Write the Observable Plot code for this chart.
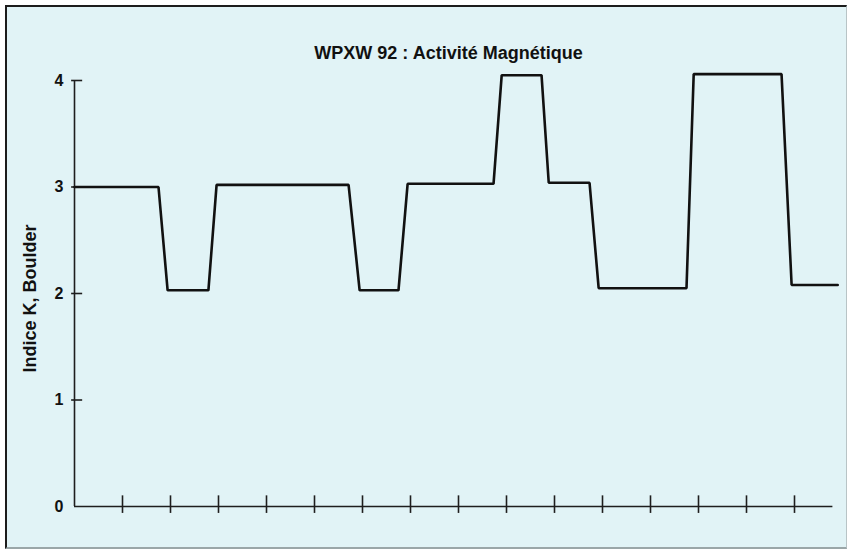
<!DOCTYPE html>
<html>
<head>
<meta charset="utf-8">
<script src="https://cdn.jsdelivr.net/npm/d3@7"></script>
<script src="https://cdn.jsdelivr.net/npm/@observablehq/plot@0.6"></script>
<style>
  html, body { margin: 0; padding: 0; background: #ffffff; }
  #wrap { position: relative; width: 849px; height: 550px; overflow: hidden; }
  #panel { position: absolute; left: 5px; top: 5px; width: 839px; height: 540px;
           background: #e1f3f6; border-left: 2px solid #1c1c1c; border-top: 2px solid #1c1c1c;
           border-right: 1px solid #b8c4c6; border-bottom: 2px solid #9aa6a8; }
  #chart { position: absolute; left: 0; top: 0; }
  #chart svg { background: transparent; }
</style>
</head>
<body>
<div id="wrap"><div id="panel"></div><div id="chart"></div></div>
<script>
const title = "WPXW 92 : Activité Magnétique";
const yLabel = "Indice K, Boulder";
const xTicks = [1, 2, 3, 4, 5, 6, 7, 8, 9, 10, 11, 12, 13, 14, 15];
const yTicks = [0, 1, 2, 3, 4];
const xAxisEnd = 15.8;
const hours = [0, 1.75, 1.94, 2.79, 2.96, 5.71, 5.94, 6.75, 6.94, 8.73, 8.90, 9.73, 9.88, 10.73, 10.92, 12.75, 12.90, 14.73, 14.94, 15.90];
const kIndex = [3.00, 3.00, 2.03, 2.03, 3.02, 3.02, 2.03, 2.03, 3.03, 3.03, 4.05, 4.05, 3.04, 3.04, 2.05, 2.05, 4.06, 4.06, 2.08, 2.08];

const series = hours.map((h, i) => ({h, k: kIndex[i]}));
const font = "'Liberation Sans Narrow', 'Arial Narrow', 'Liberation Sans', sans-serif";

const chart = Plot.plot({
  width: 849,
  height: 550,
  marginLeft: 74,
  marginRight: 7,
  marginTop: 80,
  marginBottom: 44,
  style: {background: "transparent", fontFamily: font, color: "#111"},
  x: {domain: [0, 16], axis: null},
  y: {domain: [0, 4]},
  marks: [
    // axes lines
    Plot.ruleY([0], {x1: 0, x2: xAxisEnd, stroke: "#1e1e1e", strokeWidth: 1.6}),
    Plot.ruleX([0], {y1: 0, y2: 4, stroke: "#1e1e1e", strokeWidth: 1.6}),
    // crossing ticks
    Plot.ruleX(xTicks, {x: d => d, y1: -0.065, y2: 0.1, stroke: "#1e1e1e", strokeWidth: 1.6}),
    Plot.ruleY(yTicks.filter(d => d > 0), {y: d => d, x1: -0.06, x2: 0.17, stroke: "#1e1e1e", strokeWidth: 1.6}),
    Plot.axisY({ticks: yTicks, tickSize: 0, tickPadding: 11, label: null, fontSize: 16, fontWeight: "bold", tickFormat: d => String(d)}),
    // data line
    Plot.line(series, {x: "h", y: "k", stroke: "#111", strokeWidth: 2.6, strokeLinejoin: "miter"}),
    // title and y label
    Plot.text([title], {frameAnchor: "top", text: d => d, dx: -10, dy: -27, lineAnchor: "middle", textAnchor: "middle", fontSize: 18, fontWeight: "bold", fill: "#111"}),
    Plot.text([yLabel], {frameAnchor: "left", text: d => d, rotate: -90, dx: -44, dy: 5, lineAnchor: "middle", textAnchor: "middle", fontSize: 18, fontWeight: "bold", fill: "#111"})
  ]
});
document.getElementById("chart").appendChild(chart);
</script>
</body>
</html>
